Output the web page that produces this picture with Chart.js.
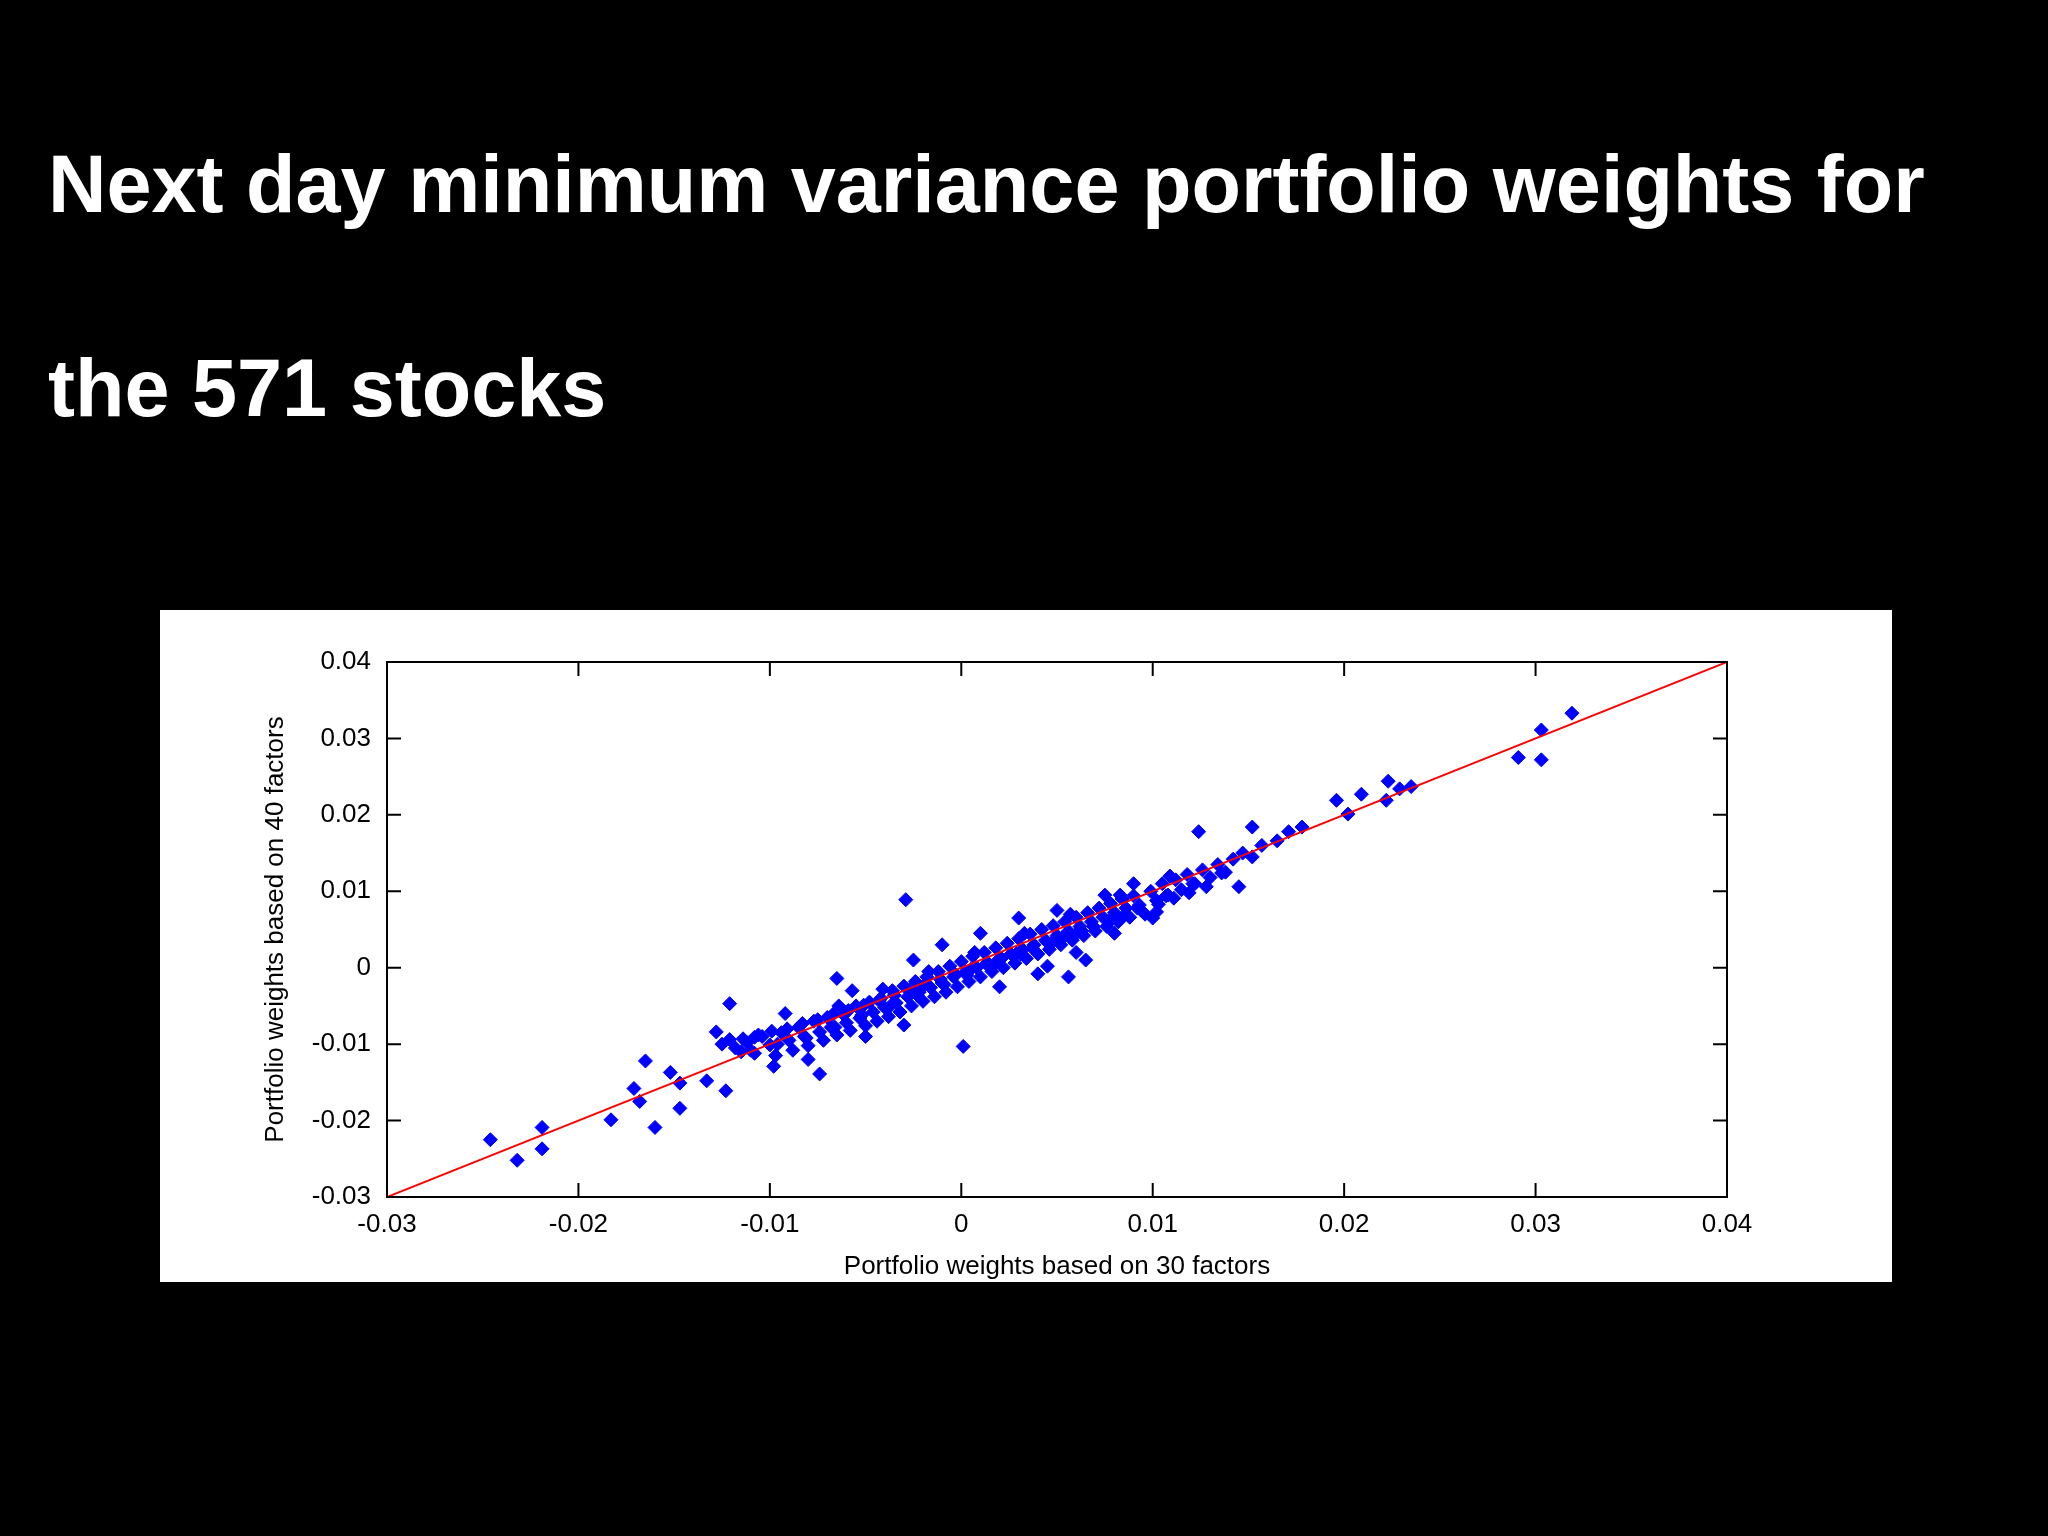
<!DOCTYPE html>
<html><head><meta charset="utf-8">
<script src="https://cdn.jsdelivr.net/npm/chart.js@4.4.0/dist/chart.umd.min.js"></script>
<style>
html,body{margin:0;padding:0;background:#000;width:2048px;height:1536px;overflow:hidden}
.t{position:absolute;left:48px;color:#fff;font-family:"Liberation Sans",Arial,sans-serif;font-weight:bold;font-size:81px;margin:0}
#box{position:absolute;left:160px;top:610px;width:1732px;height:672px;background:#fff}
</style></head><body>
<div class="t" style="top:138px">Next day minimum variance portfolio weights for</div>
<div class="t" style="top:342px">the 571 stocks</div>
<div id="box"><canvas id="c" width="1732" height="672"></canvas></div>
<script>
const xTicks=[-0.03,-0.02,-0.01,0,0.01,0.02,0.03,0.04];
const yTicks=[-0.03,-0.02,-0.01,0,0.01,0.02,0.03,0.04];
const xTitle="Portfolio weights based on 30 factors";
const yTitle="Portfolio weights based on 40 factors";
const wx30=[-0.0246,-0.0232,-0.0219,-0.0219,-0.0183,-0.0171,-0.0165,-0.0168,-0.0160,-0.0152,-0.0147,-0.0147,-0.0133,-0.0128,-0.0123,-0.0121,-0.0115,-0.0108,-0.0098,-0.0092,-0.0074,-0.0065,-0.0029,0.0001,0.0056,0.0102,0.0124,0.0145,0.0152,0.0165,0.0171,0.0178,0.0196,0.0202,0.0209,0.0222,0.0223,0.0229,0.0235,0.0291,0.0303,0.0303,0.0319,
-0.0125,-0.0118,-0.0112,-0.0108,-0.0104,-0.0100,-0.0097,-0.0094,-0.0090,-0.0088,-0.0085,-0.0082,-0.0080,-0.0077,-0.0074,-0.0072,-0.0070,-0.0068,-0.0065,-0.0062,-0.0060,-0.0058,-0.0055,-0.0053,-0.0050,-0.0048,-0.0046,-0.0044,-0.0042,-0.0040,-0.0038,-0.0036,-0.0034,-0.0032,-0.0030,-0.0028,-0.0026,-0.0024,-0.0022,-0.0020,-0.0018,-0.0016,-0.0014,-0.0012,-0.0010,-0.0008,-0.0006,-0.0004,-0.0002,0.0000,0.0002,0.0004,0.0006,0.0008,0.0010,0.0012,0.0014,0.0016,0.0018,0.0020,0.0022,0.0024,0.0026,0.0028,0.0030,0.0032,0.0034,0.0036,0.0038,0.0040,0.0042,0.0044,0.0046,0.0048,0.0050,0.0052,0.0054,0.0056,0.0058,0.0060,0.0062,0.0064,0.0066,0.0068,0.0070,0.0072,0.0074,0.0076,0.0078,0.0080,0.0082,0.0084,0.0086,0.0088,0.0090,0.0093,0.0096,0.0099,0.0102,0.0105,0.0108,0.0112,0.0115,0.0118,0.0122,0.0126,0.0130,0.0134,0.0138,0.0142,0.0147,0.0152,0.0157,
-0.0057,-0.0010,0.0010,-0.0025,0.0030,0.0050,0.0075,0.0090,0.0020,0.0040,0.0060,0.0080,0.0100,-0.0050,-0.0030,-0.0080,0.0065,0.0045,
-0.0121,-0.0114,-0.0106,-0.0099,-0.0091,-0.0083,-0.0075,-0.0067,-0.0059,-0.0051,-0.0043,-0.0035,-0.0027,-0.0019,-0.0011,-0.0003,0.0005,0.0013,0.0021,0.0029,0.0037,0.0045,0.0053,0.0061,0.0069,0.0077,0.0085,0.0094,0.0103,0.0111,0.0119,0.0128,
-0.0110,-0.0096,-0.0081,-0.0066,-0.0052,-0.0037,-0.0023,-0.0009,0.0003,0.0017,0.0031,0.0047,0.0063,0.0079,0.0092,0.0107,0.0121,0.0136,
-0.0064,-0.0041,-0.0017,0.0007,0.0033,0.0057,0.0083,0.0109];
const wy40=[-0.0225,-0.0252,-0.0209,-0.0237,-0.0199,-0.0158,-0.0122,-0.0175,-0.0209,-0.0137,-0.0151,-0.0184,-0.0148,-0.0084,-0.0161,-0.0047,-0.0110,-0.0091,-0.0129,-0.0060,-0.0139,-0.0014,0.0089,-0.0103,-0.0012,0.0073,0.0178,0.0106,0.0184,0.0166,0.0178,0.0184,0.0219,0.0201,0.0227,0.0219,0.0244,0.0234,0.0237,0.0275,0.0311,0.0272,0.0333,
-0.0100,-0.0105,-0.0098,-0.0112,-0.0090,-0.0101,-0.0115,-0.0085,-0.0095,-0.0108,-0.0078,-0.0090,-0.0102,-0.0070,-0.0084,-0.0095,-0.0065,-0.0078,-0.0088,-0.0060,-0.0072,-0.0082,-0.0050,-0.0066,-0.0076,-0.0045,-0.0058,-0.0070,-0.0040,-0.0052,-0.0064,-0.0030,-0.0046,-0.0058,-0.0024,-0.0038,-0.0050,-0.0018,-0.0032,-0.0044,-0.0012,-0.0026,-0.0038,-0.0005,-0.0020,-0.0032,0.0002,-0.0012,-0.0025,0.0008,-0.0006,-0.0018,0.0015,0.0000,-0.0012,0.0020,0.0006,-0.0005,0.0026,0.0012,0.0000,0.0032,0.0018,0.0006,0.0038,0.0024,0.0012,0.0044,0.0030,0.0018,0.0050,0.0036,0.0024,0.0055,0.0042,0.0030,0.0060,0.0048,0.0036,0.0066,0.0054,0.0042,0.0072,0.0060,0.0048,0.0078,0.0066,0.0054,0.0084,0.0072,0.0060,0.0090,0.0078,0.0066,0.0094,0.0082,0.0070,0.0100,0.0088,0.0110,0.0095,0.0115,0.0102,0.0122,0.0110,0.0128,0.0118,0.0135,0.0125,0.0142,0.0150,0.0145,0.0160,
-0.0030,0.0030,0.0045,0.0010,0.0065,0.0075,0.0095,0.0110,-0.0025,-0.0008,0.0020,0.0045,0.0065,-0.0090,-0.0075,-0.0120,0.0010,0.0002,
-0.0094,-0.0093,-0.0088,-0.0083,-0.0080,-0.0073,-0.0068,-0.0061,-0.0056,-0.0049,-0.0043,-0.0036,-0.0029,-0.0022,-0.0015,-0.0009,-0.0002,0.0005,0.0012,0.0019,0.0026,0.0033,0.0040,0.0047,0.0054,0.0061,0.0068,0.0075,0.0083,0.0091,0.0098,0.0106,
-0.0108,-0.0100,-0.0092,-0.0078,-0.0062,-0.0050,-0.0036,-0.0022,-0.0010,0.0004,0.0018,0.0032,0.0048,0.0064,0.0078,0.0094,0.0110,0.0124,
-0.0050,-0.0028,-0.0005,0.0020,0.0045,0.0070,0.0095,0.0120];
const lineX=[-0.03,0.04], lineY=[-0.03,0.04];

const pts=wx30.map((x,i)=>({x:x,y:wy40[i]}));
const fmt=v=>{const r=Math.round(v*100)/100;return r===0?'0':r.toFixed(2);};
const tickFont={family:'"Liberation Sans",Arial,sans-serif',size:26};
const framePlugin={id:'frame',afterDraw(ch){
  const a=ch.chartArea,c=ch.ctx,sx=ch.scales.x,sy=ch.scales.y;
  c.save();c.strokeStyle='#000';c.lineWidth=2;
  c.strokeRect(a.left,a.top,a.right-a.left,a.bottom-a.top);
  const L=14;
  xTicks.forEach(v=>{const p=sx.getPixelForValue(v);c.beginPath();c.moveTo(p,a.bottom);c.lineTo(p,a.bottom-L);c.moveTo(p,a.top);c.lineTo(p,a.top+L);c.stroke();});
  yTicks.forEach(v=>{const p=sy.getPixelForValue(v);c.beginPath();c.moveTo(a.left,p);c.lineTo(a.left+L,p);c.moveTo(a.right,p);c.lineTo(a.right-L,p);c.stroke();});
  c.restore();}};
new Chart(document.getElementById('c'),{
 type:'scatter',
 data:{datasets:[
  {data:pts,pointStyle:'rectRot',pointRadius:7,backgroundColor:'#0000ff',borderColor:'#0000ff',borderWidth:1,order:2},
  {type:'line',data:lineX.map((x,i)=>({x:x,y:lineY[i]})),borderColor:'#ff0000',borderWidth:2,pointRadius:0,order:1}
 ]},
 options:{responsive:false,animation:false,
  layout:{padding:{top:52,right:165,left:100,bottom:0}},
  plugins:{legend:{display:false},tooltip:{enabled:false}},
  scales:{
   x:{type:'linear',min:-0.03,max:0.04,
      afterBuildTicks(s){s.ticks=xTicks.map(v=>({value:v}));},
      afterFit(s){s.height=85;},
      grid:{display:false},border:{display:false},
      ticks:{color:'#000',font:tickFont,padding:4,maxRotation:0,callback:fmt},
      title:{display:true,text:xTitle,color:'#000',font:tickFont,padding:0}},
   y:{type:'linear',min:-0.03,max:0.04,
      afterBuildTicks(s){s.ticks=yTicks.map(v=>({value:v}));},
      afterFit(s){s.width=127;},
      grid:{display:false},border:{display:false},
      ticks:{color:'#000',font:tickFont,padding:8,callback:fmt},
      title:{display:true,text:yTitle,color:'#000',font:tickFont,padding:0}}
  }},
 plugins:[framePlugin]
});
</script></body></html>
